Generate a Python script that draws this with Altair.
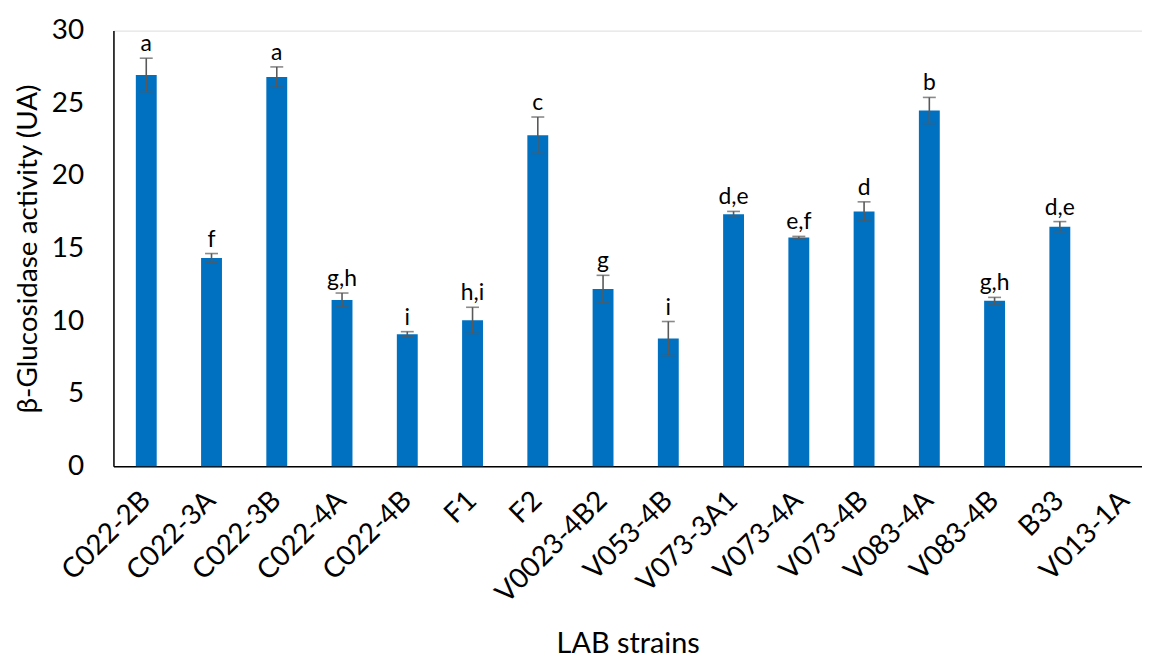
import altair as alt
import pandas as pd

strains = ["C022-2B", "C022-3A", "C022-3B", "C022-4A", "C022-4B", "F1", "F2",
           "V0023-4B2", "V053-4B", "V073-3A1", "V073-4A", "V073-4B", "V083-4A",
           "V083-4B", "B33", "V013-1A"]
means = [26.95, 14.35, 26.8, 11.45, 9.1, 10.05, 22.8, 12.2, 8.8, 17.35, 15.75,
         17.55, 24.5, 11.4, 16.5, 0]
sds = [1.15, 0.3, 0.7, 0.48, 0.17, 0.9, 1.25, 0.95, 1.17, 0.2, 0.08, 0.66,
       0.9, 0.23, 0.35, 0]
letters = ["a", "f", "a", "g,h", "i", "h,i", "c", "g", "i", "d,e", "e,f", "d",
           "b", "g,h", "d,e", ""]

df = pd.DataFrame({"strain": strains, "mean": means, "sd": sds, "letter": letters})
df["lo"] = df["mean"] - df["sd"]
df["hi"] = df["mean"] + df["sd"]

FONT = "Lato"

x = alt.X("strain:N", sort=strains, title="LAB strains",
          scale=alt.Scale(paddingInner=0.68, paddingOuter=0.221, align=0.776),
          axis=alt.Axis(labelAngle=-45, labelAlign="right", labelBaseline="middle",
                        labelFontSize=28, labelPadding=30, ticks=False,
                        domainColor="#000000", domainWidth=1.5,
                        titleFontSize=29, titleFontWeight="normal", titlePadding=22,
                        labelFont=FONT, titleFont=FONT, labelColor="#000000",
                        titleColor="#000000"))

y_scale = alt.Scale(domain=[0, 30])
y_axis = alt.Axis(values=[0, 5, 10, 15, 20, 25, 30], grid=False, ticks=False,
                  labelFontSize=28, labelPadding=30, domainColor="#000000",
                  domainWidth=1.5, titleFontSize=28, titleFontWeight="normal",
                  titlePadding=9, labelFont=FONT, titleFont=FONT,
                  labelColor="#000000", titleColor="#000000")

base = alt.Chart(df)

bars = base.mark_bar(color="#0070C0").encode(
    x=x,
    y=alt.Y("mean:Q", scale=y_scale, axis=y_axis, title="β-Glucosidase activity (UA)"),
)

err_df = base.transform_filter(alt.datum.sd > 0)

rule = err_df.mark_rule(color="#595959", strokeWidth=1.6).encode(
    x=x, y=alt.Y("lo:Q", scale=y_scale), y2="hi:Q")
cap_lo = err_df.mark_tick(color="#595959", thickness=1.6, size=13).encode(
    x=x, y=alt.Y("lo:Q", scale=y_scale))
cap_hi = err_df.mark_tick(color="#595959", thickness=1.6, size=13).encode(
    x=x, y=alt.Y("hi:Q", scale=y_scale))

labels = base.mark_text(font=FONT, fontSize=23, color="#000000",
                        baseline="alphabetic", dy=-7).encode(
    x=x, y=alt.Y("hi:Q", scale=y_scale), text="letter:N")

chart = alt.layer(bars, rule, cap_lo, cap_hi, labels).properties(
    width=1034, height=438,
    padding={"left": 6, "top": 7, "right": 0, "bottom": 0},
).configure_view(stroke=None).configure(background="white")

chart.save("out.html", embed_options={"renderer": "svg", "actions": False})
